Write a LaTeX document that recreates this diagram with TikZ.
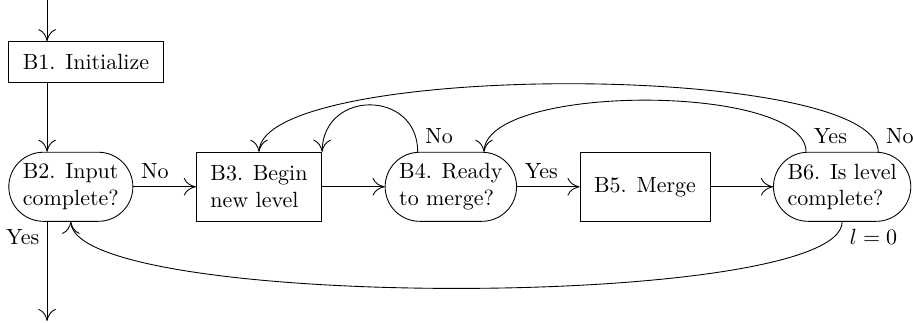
\documentclass[tikz,border=0pt]{standalone}
\usepackage{tikz}
\usetikzlibrary{arrows.meta, bending, positioning}

\begin{document}
\begin{tikzpicture}[
    >={To[length=5.5pt, width=8pt]},
    node distance=1cm,
    block/.style={draw, rectangle, align=left, inner xsep=6.4pt, inner ysep=4pt, minimum height=31.4pt},
    decision/.style={block, rounded corners=15.7pt}
  ]
  \useasboundingbox (0,0) rectangle (415pt,-146.4pt);
  \coordinate (entry) at (21.4pt,0);
  \coordinate (exit) at (21.4pt,-145.9pt);

  \node[decision, anchor=west] (B2) at (3.8pt,-84.9pt) {B2. Input\\complete?};
  \node[draw, inner xsep=6.4pt, inner ysep=5.75pt, above=1.1cm of B2.north west, anchor=south west] (B1) {B1. Initialize};
  \node[block, right=of B2] (B3) {B3. Begin\\new level};
  \node[decision, right=of B3] (B4) {B4. Ready\\to merge?};
  \node[block, right=of B4] (B5) {B5. Merge};
  \node[decision, right=of B5] (B6) {B6. Is level\\complete?};

  \draw[->] (entry) -- (B1.north -| entry);
  \draw[->] (B1.south -| entry) -- (B2.north -| entry);
  \draw[->] (B2.south -| entry) node[below left] {Yes} -- (exit);
  \draw[->] (B2) -- node[pos=0, above right] {No} (B3);
  \draw[->] (B3) -- (B4);
  \draw[->] (B4) -- node[pos=0, above right] {Yes} (B5);
  \draw[->] (B5) -- (B6);

  % loops back from the tests
  \draw[->] ([xshift=15pt]B4.north west) node[above right] {No} to[out=90, in=90, distance=1cm] (B3.north east);
  \draw[->] ([xshift=15pt]B6.north west) node[above right] {Yes} to[out=90, in=90, distance=1.1cm] ([xshift=-15pt]B4.north east);
  \draw[->] ([xshift=-15pt]B6.north east) node[above right] {No} to[out=90, in=90, distance=1.45cm] (B3.north);
  \draw[->] (B6.south) node[below right] {$l=0$} to[out=-90, in=-90, distance=1.42cm] (B2.south);
\end{tikzpicture}
\end{document}
